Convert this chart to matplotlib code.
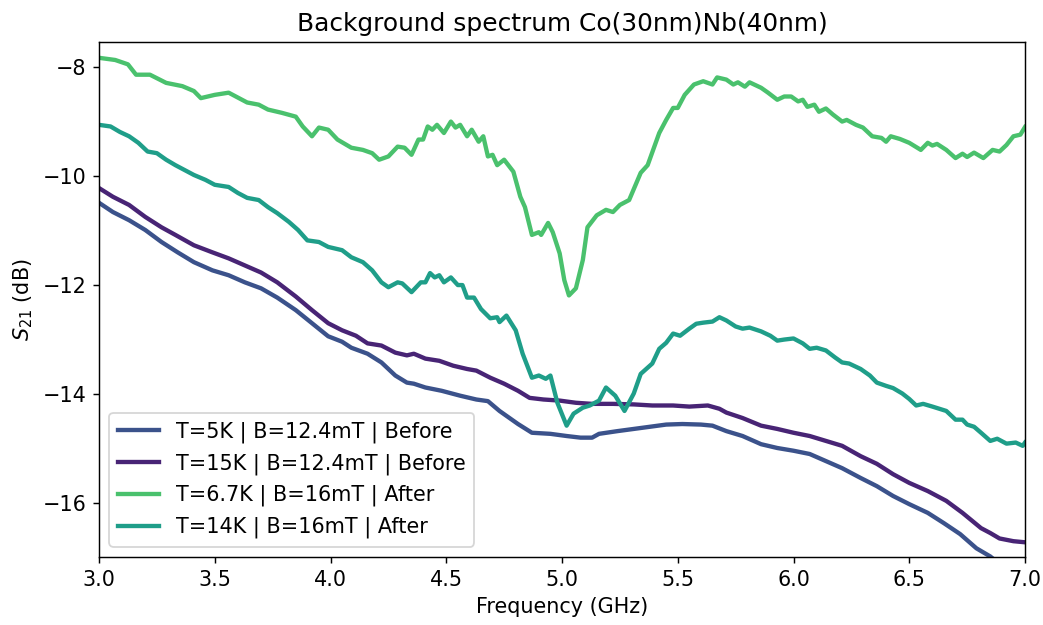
import numpy as np
import matplotlib
matplotlib.use("Agg")
import matplotlib.pyplot as plt

# values (frequency in GHz, S21 in dB)
f_5k = [3.00, 3.06, 3.13, 3.20, 3.27, 3.34, 3.41, 3.49, 3.56, 3.63, 3.70, 3.77,
        3.85, 3.92, 3.99, 4.05, 4.09, 4.16, 4.22, 4.28, 4.33, 4.36, 4.41, 4.48,
        4.56, 4.63, 4.68, 4.73, 4.81, 4.87, 4.95, 5.02, 5.08, 5.13, 5.16, 5.24,
        5.31, 5.38, 5.45, 5.52, 5.60, 5.65, 5.71, 5.78, 5.86, 5.93, 6.00, 6.07,
        6.14, 6.21, 6.29, 6.36, 6.43, 6.50, 6.58, 6.65, 6.72, 6.79, 6.85, 6.89,
        6.95, 7.00]
s_5k = [-10.50, -10.67, -10.82, -11.00, -11.22, -11.41, -11.59, -11.74, -11.83, -11.96, -12.07, -12.24,
        -12.47, -12.71, -12.95, -13.05, -13.16, -13.27, -13.43, -13.67, -13.80, -13.82, -13.89, -13.95,
        -14.04, -14.11, -14.14, -14.32, -14.56, -14.72, -14.74, -14.78, -14.81, -14.81, -14.74, -14.69,
        -14.65, -14.61, -14.57, -14.56, -14.57, -14.59, -14.69, -14.78, -14.93, -15.00, -15.05, -15.11,
        -15.24, -15.37, -15.55, -15.70, -15.88, -16.03, -16.19, -16.38, -16.58, -16.84, -16.99, -17.13,
        -17.30, -17.45]

f_15k = [3.00, 3.06, 3.13, 3.20, 3.27, 3.33, 3.41, 3.49, 3.56, 3.63, 3.70, 3.77,
         3.85, 3.92, 3.99, 4.05, 4.11, 4.16, 4.22, 4.28, 4.33, 4.36, 4.41, 4.47,
         4.53, 4.59, 4.63, 4.69, 4.75, 4.81, 4.86, 4.92, 4.99, 5.06, 5.13, 5.22,
         5.31, 5.39, 5.48, 5.55, 5.63, 5.68, 5.71, 5.78, 5.86, 5.93, 6.00, 6.07,
         6.14, 6.21, 6.29, 6.36, 6.43, 6.50, 6.58, 6.66, 6.73, 6.81, 6.85, 6.89,
         6.95, 7.00]
s_15k = [-10.23, -10.39, -10.54, -10.76, -10.95, -11.09, -11.28, -11.41, -11.52, -11.65, -11.78, -11.96,
         -12.22, -12.47, -12.71, -12.84, -12.94, -13.08, -13.12, -13.25, -13.30, -13.27, -13.36, -13.40,
         -13.49, -13.55, -13.58, -13.71, -13.82, -13.95, -14.08, -14.11, -14.13, -14.17, -14.19, -14.19,
         -14.20, -14.22, -14.22, -14.24, -14.22, -14.28, -14.35, -14.45, -14.59, -14.65, -14.72, -14.78,
         -14.87, -14.96, -15.15, -15.29, -15.48, -15.64, -15.79, -15.97, -16.19, -16.47, -16.56, -16.66,
         -16.71, -16.73]

f_67k = [3.00, 3.07, 3.125, 3.16, 3.22, 3.29, 3.36, 3.41, 3.44, 3.50, 3.56, 3.64,
         3.69, 3.73, 3.79, 3.85, 3.88, 3.92, 3.95, 3.99, 4.03, 4.09, 4.14, 4.18,
         4.21, 4.25, 4.29, 4.32, 4.35, 4.38, 4.40, 4.42, 4.44, 4.46, 4.49, 4.52,
         4.54, 4.56, 4.59, 4.61, 4.64, 4.66, 4.68, 4.70, 4.72, 4.75, 4.79, 4.82,
         4.84, 4.87, 4.90, 4.91, 4.94, 4.96, 4.99, 5.01, 5.03, 5.06, 5.09, 5.11,
         5.15, 5.19, 5.22, 5.25, 5.29, 5.34, 5.37, 5.42, 5.45, 5.48, 5.50, 5.53,
         5.57, 5.61, 5.65, 5.67, 5.71, 5.74, 5.76, 5.79, 5.81, 5.86, 5.89, 5.93,
         5.96, 5.99, 6.02, 6.04, 6.06, 6.09, 6.11, 6.14, 6.17, 6.21, 6.23, 6.27,
         6.30, 6.34, 6.38, 6.40, 6.42, 6.46, 6.50, 6.55, 6.58, 6.60, 6.62, 6.66,
         6.70, 6.73, 6.75, 6.78, 6.82, 6.86, 6.89, 6.92, 6.95, 6.98, 7.00]
s_67k = [-7.84, -7.88, -7.96, -8.15, -8.15, -8.30, -8.36, -8.45, -8.58, -8.52, -8.48, -8.66,
         -8.70, -8.79, -8.85, -8.92, -9.10, -9.28, -9.12, -9.16, -9.34, -9.49, -9.53, -9.59,
         -9.71, -9.65, -9.47, -9.49, -9.62, -9.34, -9.34, -9.10, -9.16, -9.07, -9.22, -9.01,
         -9.12, -9.07, -9.28, -9.16, -9.38, -9.28, -9.65, -9.62, -9.81, -9.71, -9.93, -10.39,
         -10.58, -11.09, -11.04, -11.09, -10.87, -11.04, -11.43, -11.92, -12.20, -12.07, -11.55, -10.95,
         -10.73, -10.63, -10.67, -10.54, -10.45, -9.95, -9.81, -9.22, -8.98, -8.76, -8.76, -8.52,
         -8.33, -8.27, -8.33, -8.20, -8.24, -8.33, -8.29, -8.37, -8.29, -8.39, -8.48, -8.61,
         -8.55, -8.55, -8.64, -8.61, -8.74, -8.70, -8.83, -8.77, -8.88, -9.01, -8.98, -9.07,
         -9.12, -9.28, -9.31, -9.38, -9.28, -9.33, -9.40, -9.53, -9.40, -9.45, -9.42, -9.53,
         -9.68, -9.60, -9.66, -9.58, -9.68, -9.53, -9.56, -9.44, -9.28, -9.25, -9.11]

f_14k = [3.00, 3.05, 3.09, 3.13, 3.17, 3.21, 3.25, 3.29, 3.33, 3.37, 3.41, 3.46,
         3.50, 3.56, 3.60, 3.64, 3.69, 3.73, 3.77, 3.82, 3.86, 3.90, 3.95, 3.99,
         4.05, 4.09, 4.14, 4.18, 4.22, 4.25, 4.29, 4.31, 4.35, 4.39, 4.41, 4.43,
         4.45, 4.47, 4.49, 4.52, 4.55, 4.57, 4.59, 4.62, 4.65, 4.69, 4.72, 4.73,
         4.76, 4.80, 4.83, 4.87, 4.90, 4.93, 4.95, 4.98, 5.02, 5.05, 5.09, 5.12,
         5.16, 5.19, 5.23, 5.27, 5.31, 5.34, 5.39, 5.42, 5.45, 5.48, 5.51, 5.55,
         5.58, 5.61, 5.65, 5.68, 5.71, 5.75, 5.78, 5.81, 5.86, 5.90, 5.93, 5.96,
         6.00, 6.04, 6.07, 6.10, 6.14, 6.18, 6.21, 6.24, 6.29, 6.33, 6.36, 6.40,
         6.43, 6.47, 6.50, 6.53, 6.56, 6.60, 6.66, 6.70, 6.73, 6.75, 6.78, 6.81,
         6.85, 6.88, 6.92, 6.96, 6.99, 7.00]
s_14k = [-9.07, -9.10, -9.20, -9.28, -9.40, -9.56, -9.59, -9.71, -9.81, -9.90, -9.99, -10.08,
         -10.17, -10.21, -10.32, -10.41, -10.45, -10.58, -10.69, -10.85, -11.00, -11.19, -11.22, -11.31,
         -11.37, -11.50, -11.59, -11.74, -11.96, -12.05, -11.96, -11.98, -12.14, -11.96, -11.96, -11.79,
         -11.87, -11.83, -11.96, -11.87, -12.01, -12.01, -12.24, -12.24, -12.45, -12.62, -12.60, -12.69,
         -12.57, -12.84, -13.27, -13.71, -13.67, -13.73, -13.67, -14.17, -14.59, -14.37, -14.26, -14.22,
         -14.13, -13.89, -14.04, -14.32, -14.00, -13.64, -13.45, -13.18, -13.07, -12.90, -12.94, -12.81,
         -12.72, -12.70, -12.68, -12.60, -12.66, -12.77, -12.81, -12.79, -12.86, -12.94, -13.03, -13.01,
         -12.99, -13.08, -13.18, -13.16, -13.21, -13.34, -13.43, -13.45, -13.55, -13.67, -13.80, -13.86,
         -13.90, -14.00, -14.10, -14.22, -14.19, -14.24, -14.32, -14.48, -14.48, -14.57, -14.61, -14.72,
         -14.87, -14.83, -14.92, -14.90, -14.96, -14.90]

series = [
    (f_5k, s_5k, "T=5K | B=12.4mT | Before", "#3b528b"),
    (f_15k, s_15k, "T=15K | B=12.4mT | Before", "#482475"),
    (f_67k, s_67k, "T=6.7K | B=16mT | After", "#4ac16d"),
    (f_14k, s_14k, "T=14K | B=16mT | After", "#1f9e89"),
]

fig = plt.figure(figsize=(1043 / 130, 625 / 130), dpi=130)
ax = fig.add_axes([99 / 1043, 1 - 557 / 625, (1025 - 99) / 1043, (557 - 42) / 625])

for f, s, lab, col in series:
    ax.plot(f, s, color=col, lw=2.4, label=lab)

ax.set_xlim(3, 7)
ax.set_ylim(-17, -7.55)
ax.set_xticks(np.arange(3, 7.01, 0.5))
ax.set_yticks([-16, -14, -12, -10, -8])
ax.tick_params(labelsize=11.5)
ax.set_xlabel("Frequency (GHz)", fontsize=11.5)
ax.set_ylabel("$S_{21}$ (dB)", fontsize=11.5)
ax.set_title("Background spectrum Co(30nm)Nb(40nm)", fontsize=13.8)
ax.legend(loc="lower left", fontsize=11.5)

fig.savefig("out.png", dpi=130)
